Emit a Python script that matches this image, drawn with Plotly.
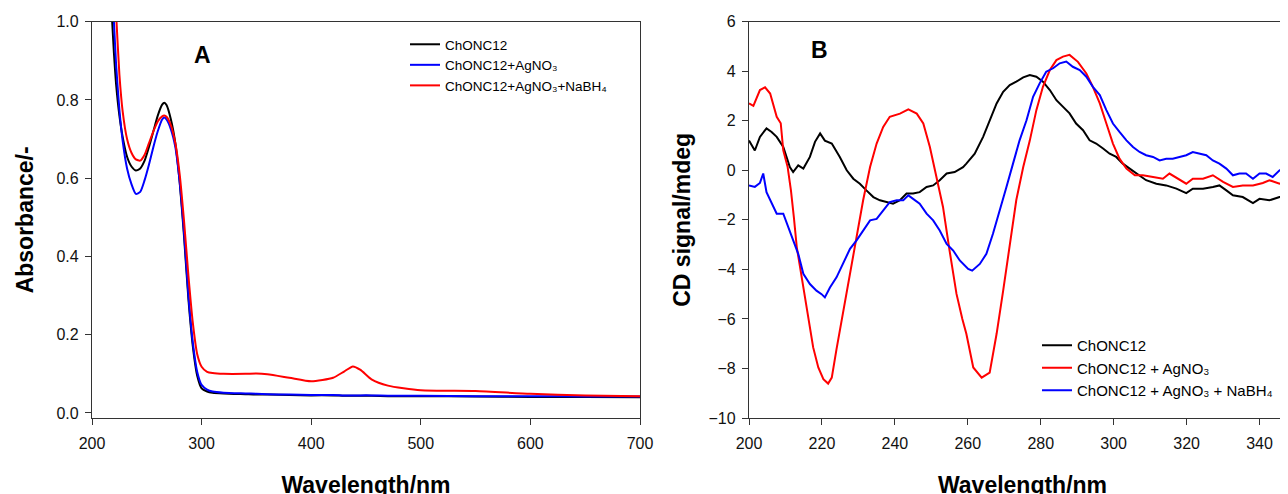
import plotly.graph_objects as go

# ---------------- Panel A : UV-Vis absorbance ----------------
wl_a = [218, 220, 222, 225, 228, 232, 236, 240, 244, 248, 252, 256, 260, 264, 266, 268,
        272, 276, 280, 284, 288, 292, 296, 300, 305, 310, 320, 340, 350, 360, 380, 400,
        420, 430, 438, 445, 455, 470, 500, 550, 600, 650, 700]
abs_chonc12 = [1.02, 0.92, 0.84, 0.76, 0.705, 0.655, 0.63, 0.62, 0.625, 0.645, 0.68, 0.72,
               0.76, 0.788, 0.793, 0.787, 0.75, 0.69, 0.59, 0.45, 0.29, 0.17, 0.095, 0.063,
               0.055, 0.052, 0.050, 0.048, 0.047, 0.047, 0.046, 0.045, 0.045, 0.044, 0.044,
               0.044, 0.044, 0.043, 0.043, 0.042, 0.041, 0.041, 0.040]
abs_agno3 = [1.10, 1.00, 0.89, 0.775, 0.695, 0.625, 0.585, 0.56, 0.565, 0.595, 0.635, 0.68,
             0.72, 0.75, 0.755, 0.75, 0.725, 0.68, 0.59, 0.46, 0.30, 0.18, 0.105, 0.072,
             0.060, 0.055, 0.052, 0.050, 0.049, 0.048, 0.047, 0.046, 0.046, 0.045, 0.045,
             0.045, 0.045, 0.044, 0.044, 0.043, 0.043, 0.042, 0.042]
abs_nabh4 = [1.25, 1.12, 1.02, 0.865, 0.77, 0.70, 0.665, 0.648, 0.645, 0.66, 0.69, 0.72,
             0.745, 0.758, 0.76, 0.757, 0.735, 0.69, 0.61, 0.49, 0.35, 0.23, 0.15, 0.118,
             0.105, 0.102, 0.100, 0.100, 0.101, 0.099, 0.090, 0.081, 0.090, 0.106, 0.119,
             0.110, 0.086, 0.070, 0.058, 0.056, 0.049, 0.045, 0.043]

# ---------------- Panel B : CD spectra ----------------
wl_b_chonc12 = [200, 201.6, 203, 204.8, 206.2, 207.6, 209.4, 211.2, 212.1, 213.5, 214.9, 216.7,
                218.1, 219.5, 220.8, 222.7, 224.9, 226.8, 228.6, 230.4, 232.2, 234.1, 235.9,
                237.7, 239.5, 241.4, 243.2, 245, 246.8, 248.7, 250.5, 252.3, 254.2, 256.4,
                258.7, 259.6, 261.9, 264.2, 266, 267.9, 269.7, 271.5, 273.3, 275.2, 277,
                278.8, 280.6, 282.5, 284.3, 286.1, 287.9, 289.7, 291.6, 293.4, 295.2, 297.1,
                298.9, 300.7, 302.5, 304.4, 306.2, 308.9, 311.7, 314.4, 317.2, 319.9, 321.7,
                324.5, 327.2, 329, 330.9, 332.7, 335.4, 338.2, 340, 342.7, 345.5, 347.7, 350]
cd_chonc12 = [1.2, 0.8, 1.35, 1.69, 1.55, 1.35, 0.94, 0.13, -0.07, 0.2, 0.07, 0.54,
              1.15, 1.49, 1.2, 1.08, 0.54, 0.0, -0.34, -0.54, -0.81, -1.08, -1.21,
              -1.28, -1.35, -1.21, -0.94, -0.94, -0.88, -0.67, -0.61, -0.4, -0.13, -0.07,
              0.13, 0.27, 0.67, 1.35, 2.02, 2.7, 3.17, 3.44, 3.58, 3.75, 3.85,
              3.78, 3.58, 3.24, 2.83, 2.56, 2.3, 1.89, 1.62, 1.21, 1.08, 0.88,
              0.67, 0.54, 0.27, 0.07, -0.13, -0.4, -0.54, -0.61, -0.74, -0.92, -0.74,
              -0.74, -0.67, -0.61, -0.81, -1.01, -1.08, -1.32, -1.15, -1.21, -1.08, -0.94, -0.9]

wl_b_agno3 = [200, 201.2, 203, 204.4, 205.8, 207.6, 208.7, 209.4, 210.6, 211.5, 212.3, 213.1,
              214, 215.8, 217.6, 219, 220.4, 221.7, 222.7, 224, 225.8, 227.7, 229.5, 231.3,
              233.2, 235, 236.8, 238.6, 241.4, 243.7, 246, 247.8, 249.6, 251.4, 253.2, 255,
              256.9, 258.5, 259.6, 261.5, 263.8, 266, 267.9, 269.7, 271.5, 273.3, 275.2, 277,
              278.8, 280.6, 282.5, 284.3, 286.1, 287.9, 290.2, 292.5, 294.3, 296.2, 298,
              299.8, 301.6, 303.5, 305.8, 308, 310.8, 313.5, 315.3, 318.1, 319.9, 321.7,
              324.5, 327.2, 330, 332.7, 335.4, 338.2, 340.9, 342.7, 345.5, 347.7, 350]
cd_agno3 = [2.7, 2.6, 3.24, 3.35, 3.1, 2.16, 1.9, 0.81, 0.13, -0.81, -1.89, -3.1,
            -3.91, -5.53, -7.15, -7.96, -8.43, -8.61, -8.37, -7.22, -5.74, -4.18, -2.63, -1.21,
            0.13, 1.08, 1.75, 2.16, 2.29, 2.46, 2.29, 1.89, 0.94, -0.27, -1.48, -3.24,
            -4.99, -6.0, -6.6, -7.96, -8.37, -8.17, -6.6, -4.86, -3.1, -1.2, 0.13, 1.2,
            2.43, 3.37, 4.05, 4.45, 4.59, 4.66, 4.38, 3.91, 3.37, 2.7, 1.89,
            1.08, 0.47, 0.07, -0.2, -0.2, -0.27, -0.34, -0.13, -0.4, -0.54, -0.34,
            -0.34, -0.2, -0.47, -0.67, -0.61, -0.61, -0.51, -0.4, -0.54, -0.47, -0.45]

wl_b_nabh4 = [200, 201.6, 203, 203.9, 204.8, 206.2, 207.6, 209.4, 210.8, 212.1, 213.5, 214.9,
              216.7, 218.5, 219.9, 220.8, 222.2, 224, 225.8, 227.7, 229.5, 231.3, 233.2, 235,
              236.8, 238.6, 240.5, 242.3, 243.7, 245, 246.8, 248.7, 250.5, 252.3, 254.2, 256,
              257.8, 260.1, 261.2, 263.3, 265.1, 266.9, 268.8, 270.6, 272.4, 274.2, 276.1,
              277.9, 279.7, 281.5, 283.4, 285.2, 287, 288.8, 290.7, 292.5, 294.3, 296.2, 298,
              299.8, 301.6, 303.5, 305.3, 307.1, 308.9, 310.8, 312.6, 314.4, 316.2, 318.1,
              319.9, 321.7, 323.5, 325.4, 327.2, 329, 330.9, 332.7, 334.5, 336.3, 338.2,
              340, 341.8, 343.6, 345.5, 347.7, 350]
cd_nabh4 = [-0.61, -0.67, -0.51, -0.13, -0.88, -1.35, -1.75, -1.75, -2.29, -2.83, -3.37, -4.18,
            -4.59, -4.86, -5.0, -5.13, -4.73, -4.32, -3.78, -3.17, -2.83, -2.43, -2.02, -1.96,
            -1.62, -1.28, -1.21, -1.21, -1.01, -1.15, -1.35, -1.75, -2.02, -2.43, -2.97, -3.24,
            -3.64, -3.98, -4.05, -3.78, -3.37, -2.56, -1.62, -0.67, 0.27, 1.21, 2.02,
            2.97, 3.51, 3.98, 4.12, 4.32, 4.39, 4.18, 4.05, 3.78, 3.37, 3.04, 2.43,
            1.89, 1.55, 1.21, 0.94, 0.74, 0.61, 0.54, 0.4, 0.47, 0.47, 0.54,
            0.61, 0.74, 0.67, 0.61, 0.4, 0.27, 0.07, -0.2, -0.13, -0.13, -0.34,
            -0.13, -0.13, -0.27, 0.0, 0.13, 0.2]

names_a = ["ChONC12", "ChONC12+AgNO₃", "ChONC12+AgNO₃+NaBH₄"]
names_b = ["ChONC12", "ChONC12 + AgNO₃", "ChONC12 + AgNO₃ + NaBH₄"]

W, H = 1288, 494
FONT = "Arial, 'Liberation Sans', sans-serif"

fig = go.Figure()
for ys, name, col in zip([abs_chonc12, abs_agno3, abs_nabh4], names_a, ["#000000", "#0000ff", "#ff0000"]):
    fig.add_trace(go.Scatter(x=wl_a, y=ys, mode="lines", name=name,
                             line=dict(color=col, width=2, shape="spline", smoothing=0.6),
                             xaxis="x", yaxis="y", legend="legend"))
for xs, ys, name, col in zip([wl_b_chonc12, wl_b_agno3, wl_b_nabh4], [cd_chonc12, cd_agno3, cd_nabh4], names_b,
                             ["#000000", "#ff0000", "#0000ff"]):
    fig.add_trace(go.Scatter(x=xs, y=ys, mode="lines", name=name, line=dict(color=col, width=2),
                             xaxis="x2", yaxis="y2", legend="legend2"))

ydom = [(H - 410) / H, (H - 13.7) / H]
common_axis = dict(showline=True, linecolor="#333333", linewidth=1.3, ticks="outside", ticklen=6,
                   tickcolor="#333333", tickwidth=1.3, showgrid=False, zeroline=False, automargin=False,
                   tickfont=dict(size=16, color="#111111", family=FONT))

fig.update_layout(
    width=W, height=H, margin=dict(l=0, r=0, t=0, b=0),
    paper_bgcolor="white", plot_bgcolor="white",
    font=dict(family=FONT, color="black"),
    xaxis=dict(domain=[84 / W, 632 / W], range=[200, 700], dtick=100, mirror=True, anchor="y",
               ticklabelstandoff=5,
               title=dict(text="<b>Wavelength/nm</b>", font=dict(size=23), standoff=25), **common_axis),
    yaxis=dict(domain=ydom, range=[-0.0128, 1.0], dtick=0.2, tickformat=".1f", mirror=True, anchor="x",
               ticklabelstandoff=3,
               title=dict(text="<b>Absorbance/-</b>", font=dict(size=23), standoff=16), **common_axis),
    xaxis2=dict(domain=[741 / W, 1.0], range=[200, 350], dtick=20, mirror=True, anchor="y2",
                ticklabelstandoff=5,
                title=dict(text="<b>Wavelength/nm</b>", font=dict(size=23), standoff=25), **common_axis),
    yaxis2=dict(domain=ydom, range=[-10, 6], dtick=2, mirror=False, anchor="x2",
                ticklabelstandoff=3,
                title=dict(text="<b>CD signal/mdeg</b>", font=dict(size=23), standoff=11), **common_axis),
    legend=dict(x=397 / W, y=1 - 21 / H, xanchor="left", yanchor="top", bgcolor="rgba(0,0,0,0)",
                font=dict(size=13.5, family=FONT), itemwidth=30, tracegroupgap=0),
    legend2=dict(x=1029 / W, y=1 - 321 / H, xanchor="left", yanchor="top", bgcolor="rgba(0,0,0,0)",
                 font=dict(size=15, family=FONT), itemwidth=30, tracegroupgap=0),
    annotations=[
        dict(text="<b>A</b>", x=194 / W, y=1 - 47 / H, xref="paper", yref="paper", showarrow=False,
             xanchor="center", yanchor="middle", font=dict(size=23, family=FONT, color="black")),
        dict(text="<b>B</b>", x=811 / W, y=1 - 42 / H, xref="paper", yref="paper", showarrow=False,
             xanchor="center", yanchor="middle", font=dict(size=23, family=FONT, color="black")),
    ],
)

fig.write_html("out.html")
